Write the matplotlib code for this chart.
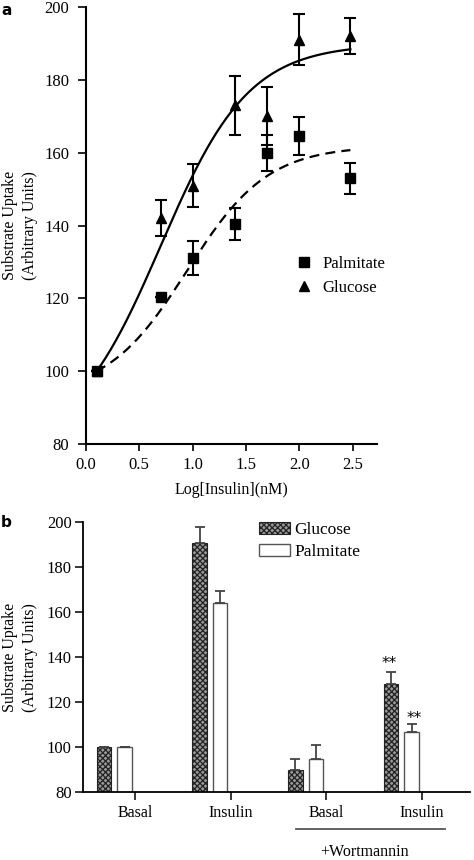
import numpy as np
import matplotlib
matplotlib.use("Agg")
import matplotlib.pyplot as plt
from matplotlib.lines import Line2D
from matplotlib.patches import Patch
from matplotlib.transforms import blended_transform_factory

plt.rcParams['font.family'] = ['Liberation Serif', 'DejaVu Serif']
plt.rcParams['hatch.linewidth'] = 0.9

# ---- panel a: dose response ----
log_ins = [0.1, 0.7, 1.0, 1.4, 1.7, 2.0, 2.48]
glc_mean = [100, 142, 151, 173, 170, 191, 192]
glc_err = [0, 5, 6, 8, 8, 7, 5]
pal_mean = [100, 120.5, 131, 140.5, 160, 164.5, 153]
pal_err = [0, 0, 4.7, 4.4, 5, 5.2, 4.3]

# fitted sigmoid parameters (bottom, top, logEC50, hill)
glc_fit = (78.9, 189.9, 0.70, 1.05)
pal_fit = (93.5, 161.9, 0.95, 1.15)

# ---- panel b: bars ----
groups = ['Basal', 'Insulin', 'Basal', 'Insulin']
bar_glc = [100, 191, 90, 128]
bar_glc_err = [0, 7, 5, 5.6]
bar_pal = [100, 164, 95, 107]
bar_pal_err = [0, 5.5, 6, 3.3]
stars = ['', '', '', '**']


def sigmoid(x, p):
    b, t, c, h = p
    return b + (t - b) / (1 + 10 ** ((c - x) * h))


fig = plt.figure(figsize=(4.74, 8.6), dpi=100)

# panel a
ax = fig.add_axes([0.1814, 0.4837, 0.614, 0.508])
xs = np.linspace(log_ins[0], log_ins[-1], 200)
ax.plot(xs, sigmoid(xs, glc_fit), color='black', lw=1.6)
ax.plot(xs, sigmoid(xs, pal_fit), color='black', lw=1.6, ls=(0, (4.5, 2.8)))
ax.errorbar(log_ins, glc_mean, yerr=glc_err, fmt='^', color='black', ms=7,
            capsize=4, elinewidth=1.5, capthick=1.5)
ax.errorbar(log_ins, pal_mean, yerr=pal_err, fmt='s', color='black', ms=6.5,
            capsize=4, elinewidth=1.5, capthick=1.5)

ax.set_xlim(0, 2.73)
ax.set_ylim(80, 200)
ax.set_xticks([0.0, 0.5, 1.0, 1.5, 2.0, 2.5])
ax.set_xticklabels(['0.0', '0.5', '1.0', '1.5', '2.0', '2.5'])
ax.set_yticks(range(80, 201, 20))
for s in ['top', 'right']:
    ax.spines[s].set_visible(False)
for s in ['left', 'bottom']:
    ax.spines[s].set_linewidth(1.5)
ax.tick_params(axis='both', labelsize=12, width=1.2)
ax.tick_params(axis='y', length=6, pad=6)
ax.tick_params(axis='x', length=5, pad=4)
ax.set_xlabel('Log[Insulin](nM)', fontsize=11.5)
ax.xaxis.set_label_coords(0.5, -0.088)
ax.set_ylabel('Substrate Uptake\n(Arbitrary Units)', fontsize=11.5, linespacing=1.35)
ax.yaxis.set_label_coords(-0.165, 0.5)

hs = [Line2D([], [], marker='s', ls='none', color='black', ms=6.5),
      Line2D([], [], marker='^', ls='none', color='black', ms=7)]
ax.legend(hs, ['Palmitate', 'Glucose'], loc='upper left', bbox_to_anchor=(0.72, 0.43),
          frameon=False, fontsize=12, handlelength=1.0, handletextpad=0.6,
          borderpad=0, borderaxespad=0, labelspacing=0.45)

fig.text(0.002, 0.997, 'a', fontsize=11, fontweight='bold', family='DejaVu Sans',
         ha='left', va='top')

# panel b
bx = fig.add_axes([0.1745, 0.0787, 0.817, 0.314])
pos = np.arange(len(groups))
w = 0.15
bx.bar(pos - 0.325, bar_glc, width=w, facecolor='#9a9a9a', edgecolor='#222222',
       hatch='xxxxxx', linewidth=0.8)
bx.bar(pos - 0.11, bar_pal, width=w, facecolor='white', edgecolor='#555555', linewidth=1.0)
bx.errorbar(pos - 0.325, bar_glc, yerr=[[0] * 4, bar_glc_err], fmt='none',
            ecolor='#444444', elinewidth=1.3, capsize=3.5, capthick=1.3)
bx.errorbar(pos - 0.11, bar_pal, yerr=[[0] * 4, bar_pal_err], fmt='none',
            ecolor='#444444', elinewidth=1.3, capsize=3.5, capthick=1.3)
for i, st in enumerate(stars):
    if st:
        bx.text(pos[i] - 0.34, bar_glc[i] + bar_glc_err[i] + 3.5, st, ha='center', va='center',
                fontsize=11, family='DejaVu Sans')
        bx.text(pos[i] - 0.08, bar_pal[i] + bar_pal_err[i] + 2.5, st, ha='center', va='center',
                fontsize=11, family='DejaVu Sans')

bx.set_xlim(-0.547, 3.5)
bx.set_ylim(80, 200)
bx.set_yticks(range(80, 201, 20))
bx.set_xticks(pos)
bx.set_xticklabels(groups, fontsize=11.5)
for s in ['top', 'right']:
    bx.spines[s].set_visible(False)
for s in ['left', 'bottom']:
    bx.spines[s].set_linewidth(1.3)
bx.tick_params(axis='y', labelsize=12, length=6, width=1.1, pad=2)
bx.tick_params(axis='x', length=6, width=1.1, pad=3)
bx.set_ylabel('Substrate Uptake\n(Arbitrary Units)', fontsize=11.5, linespacing=1.35)
bx.yaxis.set_label_coords(-0.115, 0.5)

tr = blended_transform_factory(bx.transData, bx.transAxes)
bx.plot([1.68, 3.24], [-0.137, -0.137], color='#555555', lw=1.3, transform=tr, clip_on=False)
bx.text(2.40, -0.222, '+Wortmannin', transform=tr, ha='center', va='center', fontsize=11.5)

bh = [Patch(facecolor='#9a9a9a', edgecolor='#222222', hatch='xxxxxx', linewidth=0.8),
      Patch(facecolor='white', edgecolor='#555555', linewidth=1.0)]
bx.legend(bh, ['Glucose', 'Palmitate'], loc='upper left', bbox_to_anchor=(0.455, 1.0),
          frameon=False, fontsize=12.5, handlelength=1.8, handleheight=0.65,
          handletextpad=0.25, borderpad=0, borderaxespad=0, labelspacing=0.35)

fig.text(0.002, 0.392, 'b', fontsize=11, fontweight='bold', family='DejaVu Sans',
         ha='left', va='center')

fig.savefig('out.png', dpi=100)
